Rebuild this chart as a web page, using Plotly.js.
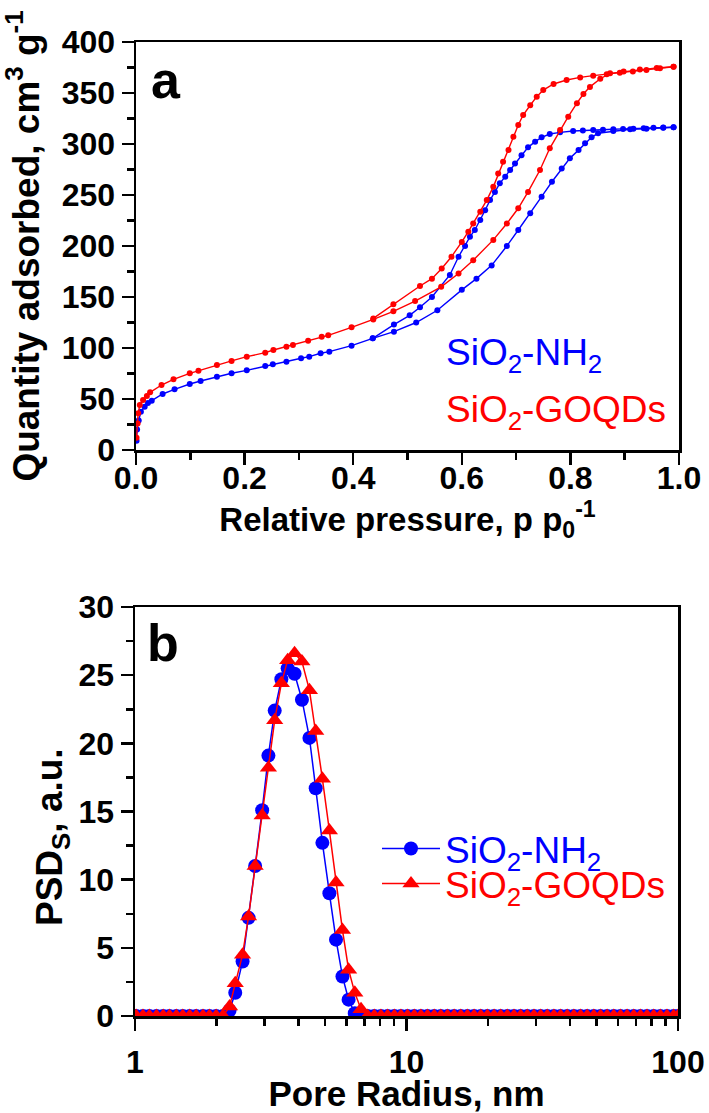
<!DOCTYPE html>
<html>
<head>
<meta charset="utf-8">
<script src="https://cdn.plot.ly/plotly-3.0.1.min.js"></script>
<style>html,body{margin:0;padding:0;background:#fff;}#chart{width:709px;height:1113px;}</style>
</head>
<body>
<div id="chart"></div>
<script>
// ---------- Panel a: N2 isotherms ----------
const p_NH2_ads = [0.001,0.002,0.005,0.009,0.016,0.022,0.029,0.049,0.071,0.099,0.119,0.149,0.176,0.204,0.238,0.252,0.277,0.304,0.319,0.340,0.356,0.397,0.436,0.475,0.516,0.555,0.600,0.627,0.655,0.683,0.704,0.726,0.747,0.766,0.784,0.799,0.815,0.827,0.839,0.851,0.879,0.910,0.940,0.971,0.990];
const q_NH2_ads = [9,20,29,37.5,42.5,46,48.4,54.9,59.5,64.7,67.6,71.9,75.2,78.1,82.3,84,86.6,89.9,91.5,94.8,96.4,102.3,109.5,116,125,137,157,168,181,200,215.7,232,248.4,263,276,286,294,300.7,306.5,310.5,312.7,314.4,315,316,316.4];
const p_NH2_des = [0.990,0.971,0.953,0.935,0.916,0.897,0.879,0.860,0.842,0.823,0.805,0.781,0.762,0.747,0.735,0.722,0.710,0.698,0.689,0.680,0.670,0.661,0.652,0.643,0.634,0.624,0.615,0.606,0.594,0.578,0.545,0.523,0.504,0.475,0.436];
const q_NH2_des = [316.4,316.2,316,315.5,315,314.8,314.4,314,313.7,313.2,312.7,311.4,309.8,306.5,302.3,296.7,289,281,274.5,268,261.4,253,245,235,225.5,215.7,209,200,189.5,171.6,150,140,132,123,109.5];

const p_GO_ads = [0.001,0.003,0.004,0.007,0.013,0.020,0.026,0.047,0.069,0.099,0.115,0.149,0.176,0.204,0.238,0.253,0.277,0.289,0.317,0.342,0.354,0.397,0.437,0.474,0.514,0.562,0.594,0.621,0.658,0.683,0.704,0.722,0.744,0.762,0.781,0.796,0.812,0.824,0.836,0.855,0.873,0.898,0.928,0.959,0.990];
const q_GO_ads = [12,26,36,44,49,53,56.5,63.7,69.3,75.2,77.8,83.3,87.3,91.5,95.4,98,101.3,103,107.2,111,112.4,120.3,128,136,146,160,173,186,206,222,237,253,274.5,295.8,313.7,326.8,340,349,356,364,369.3,371,373,374.5,375.8];
const p_GO_des = [0.990,0.965,0.940,0.915,0.891,0.867,0.842,0.818,0.793,0.769,0.750,0.738,0.726,0.713,0.704,0.695,0.686,0.676,0.667,0.658,0.646,0.634,0.621,0.612,0.600,0.581,0.563,0.545,0.523,0.474,0.437];
const q_GO_des = [375.8,374.2,372.5,371,369.9,368.5,367,365.3,362.7,358.8,352.9,346.4,338,328.4,318.6,307,294,282.6,271,258,245,233.6,222,214,204,189.5,178,168,160.8,143,129];

// ---------- Panel b: pore size distributions ----------
const radius_nm = [1.01,1.07,1.13,1.20,1.27,1.34,1.42,1.50,1.59,1.68,1.78,1.88,1.99,2.11,
  2.23,2.34,2.49,2.62,2.77,2.94,3.10,3.27,3.46,3.65,3.87,4.12,4.39,4.63,4.90,5.20,5.50,5.81,6.12,6.45,6.80,
  7.19,7.61,8.05,8.52,9.02,9.54,10.09,10.68,11.30,11.95,12.65,13.38,14.16,14.98,15.85,16.77,17.74,18.77,19.86,21.02,22.23,23.52,24.89,26.33,27.86,29.48,31.19,33.00,34.91,36.94,39.08,41.35,43.75,46.29,48.98,51.82,54.83,58.01,61.38,64.94,68.71,72.70,76.91,81.38,86.10,91.10,96.38,100];
const psd_NH2 = [0,0,0,0,0,0,0,0,0,0,0,0,0,0,
  0.4,1.7,4.0,7.2,11.0,15.1,19.1,22.4,24.7,25.5,25.1,23.2,20.4,16.7,12.7,9.0,5.6,2.9,1.2,0.2,0,
  0,0,0,0,0,0,0,0,0,0,0,0,0,0,0,0,0,0,0,0,0,0,0,0,0,0,0,0,0,0,0,0,0,0,0,0,0,0,0,0,0,0,0,0,0,0,0,0];
const psd_GO = [0,0,0,0,0,0,0,0,0,0,0,0,0,0,
  0.7,2.4,4.5,7.3,11.0,14.7,18.2,21.7,24.4,26.1,26.6,26.0,23.9,20.9,17.4,13.6,9.8,6.3,3.4,1.7,0.5,
  0,0,0,0,0,0,0,0,0,0,0,0,0,0,0,0,0,0,0,0,0,0,0,0,0,0,0,0,0,0,0,0,0,0,0,0,0,0,0,0,0,0,0,0,0,0,0,0];

const xTicksA = [0,0.2,0.4,0.6,0.8,1.0];
const xMinorA = [0.1,0.3,0.5,0.7,0.9];
const xTicksB = [1,10,100];
const xMinorB = [2,3,4,5,6,7,8,9,20,30,40,50,60,70,80,90];

const BLUE = '#0000ff', RED = '#ff0000';
const FONT = 'Liberation Sans, Arial, Helvetica, sans-serif';

function iso(x, y, color) {
  return {x: x, y: y, xaxis: 'x', yaxis: 'y', type: 'scatter', mode: 'lines+markers',
    line: {color: color, width: 1.4}, marker: {color: color, size: 6, symbol: 'circle'},
    showlegend: false, hoverinfo: 'x+y'};
}

const traces = [
  iso(p_NH2_ads, q_NH2_ads, BLUE),
  iso(p_NH2_des, q_NH2_des, BLUE),
  iso(p_GO_ads, q_GO_ads, RED),
  iso(p_GO_des, q_GO_des, RED),
  {x: radius_nm, y: psd_NH2, xaxis: 'x2', yaxis: 'y2', type: 'scatter', mode: 'lines+markers',
   name: '<span style="color:#0000ff">SiO<sub>2</sub>-NH<sub>2</sub></span>',
   line: {color: BLUE, width: 1.5}, marker: {color: BLUE, size: 14, symbol: 'circle'}, legend: 'legend'},
  {x: radius_nm, y: psd_GO, xaxis: 'x2', yaxis: 'y2', type: 'scatter', mode: 'lines+markers',
   name: '<span style="color:#ff0000">SiO<sub>2</sub>-GOQDs</span>',
   line: {color: RED, width: 1.5}, marker: {color: RED, size: 15, symbol: 'triangle-up'}, legend: 'legend2'}
];

const H = 1113, W = 709;
function axisCommon() {
  return {showline: true, linewidth: 2.5, linecolor: 'black', mirror: true, showgrid: false, zeroline: false,
    ticks: 'outside', ticklen: 12, tickwidth: 2.5, tickcolor: 'black',
    tickfont: {family: FONT, size: 32, weight: 'bold', color: 'black'}};
}

const layout = {
  width: W, height: H, margin: {l: 0, r: 0, t: 0, b: 0},
  paper_bgcolor: 'white', plot_bgcolor: 'white',
  font: {family: FONT, color: 'black'},
  xaxis: Object.assign(axisCommon(), {
    domain: [136 / W, 679 / W], anchor: 'y', range: [0, 1],
    tickvals: xTicksA, tickformat: '.1f', ticklabelstandoff: -14,
    minor: {tickvals: xMinorA, ticks: 'outside', ticklen: 7, tickwidth: 2.5, tickcolor: 'black'},
    title: {text: 'Relative pressure, p p<sub>0</sub><sup>-1</sup>', standoff: 6,
            font: {family: FONT, size: 33, weight: 'bold'}}
  }),
  yaxis: Object.assign(axisCommon(), {
    domain: [1 - 450 / H, 1 - 42 / H], anchor: 'x', range: [0, 400], dtick: 50, tick0: 0,
    minor: {dtick: 25, ticks: 'outside', ticklen: 7, tickwidth: 2.5, tickcolor: 'black'},
    title: {text: 'Quantity adsorbed, cm<sup>3</sup> g<sup>-1</sup>', standoff: 12,
            font: {family: FONT, size: 37, weight: 'bold'}}
  }),
  xaxis2: Object.assign(axisCommon(), {
    type: 'log', domain: [135 / W, 678 / W], anchor: 'y2', range: [0, 2],
    tickvals: xTicksB, ticktext: ['1', '10', '100'], ticklabelstandoff: 4,
    minor: {tickvals: xMinorB, ticks: 'outside', ticklen: 7, tickwidth: 2.5, tickcolor: 'black'},
    title: {text: 'Pore Radius, nm', standoff: 8, font: {family: FONT, size: 35, weight: 'bold'}}
  }),
  yaxis2: Object.assign(axisCommon(), {
    domain: [1 - 1016 / H, 1 - 607 / H], anchor: 'x2', range: [0, 30], dtick: 5, tick0: 0,
    minor: {dtick: 2.5, ticks: 'outside', ticklen: 7, tickwidth: 2.5, tickcolor: 'black'},
    title: {text: 'PSD<sub>S</sub>, a.u.&nbsp;&nbsp;&nbsp;&nbsp;&nbsp;', standoff: 5,
            font: {family: FONT, size: 37, weight: 'bold'}}
  }),
  legend: {x: 377 / W, xanchor: 'left', y: 1 - 849 / H, yanchor: 'middle', bgcolor: 'rgba(0,0,0,0)',
    itemwidth: 58, font: {family: FONT, size: 37}},
  legend2: {x: 377 / W, xanchor: 'left', y: 1 - 884 / H, yanchor: 'middle', bgcolor: 'rgba(0,0,0,0)',
    itemwidth: 58, font: {family: FONT, size: 37}},
  annotations: [
    {text: '<b>a</b>', xref: 'paper', yref: 'paper', x: 149 / W, y: 1 - 80 / H, xanchor: 'left', yanchor: 'middle',
     showarrow: false, font: {family: FONT, size: 52, color: 'black'}},
    {text: '<b>b</b>', xref: 'paper', yref: 'paper', x: 145 / W, y: 1 - 643 / H, xanchor: 'left', yanchor: 'middle',
     showarrow: false, font: {family: FONT, size: 52, color: 'black'}},
    {text: 'SiO<sub>2</sub>-NH<sub>2</sub>', xref: 'paper', yref: 'paper', x: 444 / W, y: 1 - 355 / H,
     xanchor: 'left', yanchor: 'middle', showarrow: false, font: {family: FONT, size: 37, color: BLUE}},
    {text: 'SiO<sub>2</sub>-GOQDs', xref: 'paper', yref: 'paper', x: 444 / W, y: 1 - 412 / H,
     xanchor: 'left', yanchor: 'middle', showarrow: false, font: {family: FONT, size: 37, color: RED}}
  ]
};

Plotly.newPlot('chart', traces, layout, {displayModeBar: false, staticPlot: true});
</script>
</body>
</html>
